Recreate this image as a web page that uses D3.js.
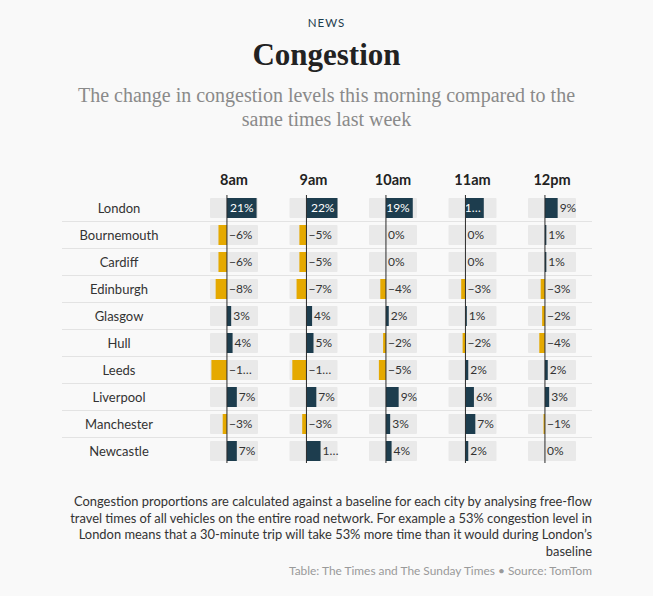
<!DOCTYPE html>
<html>
<head>
<meta charset="utf-8">
<script src="https://cdn.jsdelivr.net/npm/d3@7"></script>
<style>
  html, body { margin: 0; padding: 0; background: #f9f9f9; }
  svg { display: block; }
</style>
</head>
<body>
<svg id="chart" width="653" height="596"></svg>
<script>
const times = ["8am", "9am", "10am", "11am", "12pm"];
const cities = ["London", "Bournemouth", "Cardiff", "Edinburgh", "Glasgow", "Hull", "Leeds", "Liverpool", "Manchester", "Newcastle"];
const v8am  = [21, -6, -6, -8, 3, 4, -11, 7, -3, 7];
const v9am  = [22, -5, -5, -7, 4, 5, -10, 7, -3, 10];
const v10am = [19, 0, 0, -4, 2, -2, -5, 9, 3, 4];
const v11am = [13, 0, 0, -3, 1, -2, 2, 6, 7, 2];
const v12pm = [9, 1, 1, -3, -2, -4, 2, 3, -1, 0];
const seriesValues = [v8am, v9am, v10am, v11am, v12pm];

const footnoteLines = [
  "Congestion proportions are calculated against a baseline for each city by analysing free-flow",
  "travel times of all vehicles on the entire road network. For example a 53% congestion level in",
  "London means that a 30-minute trip will take 53% more time than it would during London\u2019s",
  "baseline"
];
const sourceText = "Table: The Times and The Sunday Times \u2022 Source: TomTom";

const svg = d3.select("#chart");
const W = 653, H = 596;
const sans = "Lato, 'Open Sans', sans-serif";
const serif = "'Liberation Serif', 'DejaVu Serif', serif";
const navy = "#1d3d4e", amber = "#e5a900", ink = "#333333";

// Header
svg.append("text").attr("x", W / 2).attr("y", 27).attr("text-anchor", "middle")
  .attr("font-family", sans).attr("font-size", 11.5).attr("letter-spacing", 1)
  .attr("fill", navy).text("NEWS");
svg.append("text").attr("x", W / 2).attr("y", 65).attr("text-anchor", "middle")
  .attr("font-family", serif).attr("font-weight", "bold").attr("font-size", 31)
  .attr("fill", "#222").text("Congestion");
const sub = svg.append("text").attr("text-anchor", "middle")
  .attr("font-family", serif).attr("font-size", 20).attr("fill", "#8a8a8a");
sub.append("tspan").attr("x", W / 2).attr("y", 102).text("The change in congestion levels this morning compared to the");
sub.append("tspan").attr("x", W / 2).attr("y", 126).text("same times last week");

// Scales
const xCol = d3.scaleBand().domain(times).range([210, 576]).paddingInner(31.5 / 79.5).paddingOuter(0);
const yRow = d3.scaleBand().domain(cities).range([194.5, 464.5]).padding(0);
const xVal = d3.scaleLinear().domain([-12, 22]).range([0, xCol.bandwidth()]);
const cellH = 20;

// Column headers
svg.append("g").selectAll("text").data(times).join("text")
  .attr("x", d => xCol(d) + xCol.bandwidth() / 2).attr("y", 185)
  .attr("text-anchor", "middle").attr("font-family", sans).attr("font-weight", "bold")
  .attr("font-size", 14.5).attr("fill", "#222").text(d => d);

// Row separators
svg.append("g").selectAll("line").data(cities.slice(1)).join("line")
  .attr("x1", 62).attr("x2", 592)
  .attr("y1", d => yRow(d)).attr("y2", d => yRow(d))
  .attr("stroke", "#e3e3e3").attr("stroke-width", 1);

// City labels
svg.append("g").selectAll("text").data(cities).join("text")
  .attr("x", 119).attr("y", d => yRow(d) + yRow.bandwidth() / 2 + 4.5)
  .attr("text-anchor", "middle").attr("font-family", sans).attr("font-size", 13)
  .attr("fill", ink).text(d => d);

// approximate glyph widths of the original label font, used to decide truncation
function estWidth(s) {
  let w = 0;
  for (const ch of s) {
    if (ch === "1") w += 5;
    else if (ch >= "0" && ch <= "9") w += 5.5;
    else if (ch === "%") w += 8.5;
    else if (ch === "\u2212") w += 10;
    else if (ch === "\u2026") w += 7.5;
    else w += 6;
  }
  return w;
}
function fitText(s, avail) {
  if (estWidth(s) <= avail) return s;
  let chars = Array.from(s);
  while (chars.length > 0) {
    chars.pop();
    const t = chars.join("") + "\u2026";
    if (estWidth(t) <= avail) return t;
  }
  return "";
}
function fmt(v) { return (v < 0 ? "\u2212" : "") + Math.abs(v) + "%"; }

const cells = [];
times.forEach((t, ti) => {
  cities.forEach((c, ci) => cells.push({ time: t, city: c, value: seriesValues[ti][ci] }));
});

const gCells = svg.append("g");
const cell = gCells.selectAll("g").data(cells).join("g")
  .attr("transform", d => `translate(${xCol(d.time)},${yRow(d.city) + (yRow.bandwidth() - cellH) / 2})`);

cell.append("rect").attr("x", 0).attr("y", 0).attr("width", xCol.bandwidth()).attr("height", cellH)
  .attr("fill", "#e9e9e9").attr("rx", 1);

cell.append("rect")
  .attr("x", d => Math.min(xVal(0), xVal(d.value)))
  .attr("y", 0)
  .attr("width", d => Math.abs(xVal(d.value) - xVal(0)))
  .attr("height", cellH)
  .attr("fill", d => d.value < 0 ? amber : navy);

cell.each(function (d) {
  const g = d3.select(this);
  const z = xVal(0), end = xVal(d.value), bw = xCol.bandwidth();
  const raw = fmt(d.value);
  let x, anchor, fill, txt;
  if (d.value > 11) {
    const barW = end - z;
    txt = fitText(raw, barW - 5);
    x = end - 3; anchor = "end"; fill = "#ffffff";
  } else {
    const start = Math.max(z, end) + 2;
    txt = fitText(raw, bw - start - 2);
    x = start; anchor = "start"; fill = ink;
  }
  g.append("text").attr("x", x).attr("y", cellH / 2 + 4)
    .attr("text-anchor", anchor).attr("font-family", sans).attr("font-size", 12)
    .attr("fill", fill).text(txt);
});

// Zero lines
svg.append("g").selectAll("line").data(times).join("line")
  .attr("x1", d => xCol(d) + xVal(0)).attr("x2", d => xCol(d) + xVal(0))
  .attr("y1", 195).attr("y2", 463)
  .attr("stroke", "#2b2b2b").attr("stroke-width", 1);

// Footnote
svg.append("g").selectAll("text").data(footnoteLines).join("text")
  .attr("x", 592).attr("y", (d, i) => 506 + i * 16.5)
  .attr("text-anchor", "end").attr("font-family", sans).attr("font-size", 12.9)
  .attr("fill", ink).text(d => d);
svg.append("text").attr("x", 592).attr("y", 575).attr("text-anchor", "end")
  .attr("font-family", sans).attr("font-size", 11.9).attr("fill", "#9a9a9a")
  .text(sourceText);
</script>
</body>
</html>
